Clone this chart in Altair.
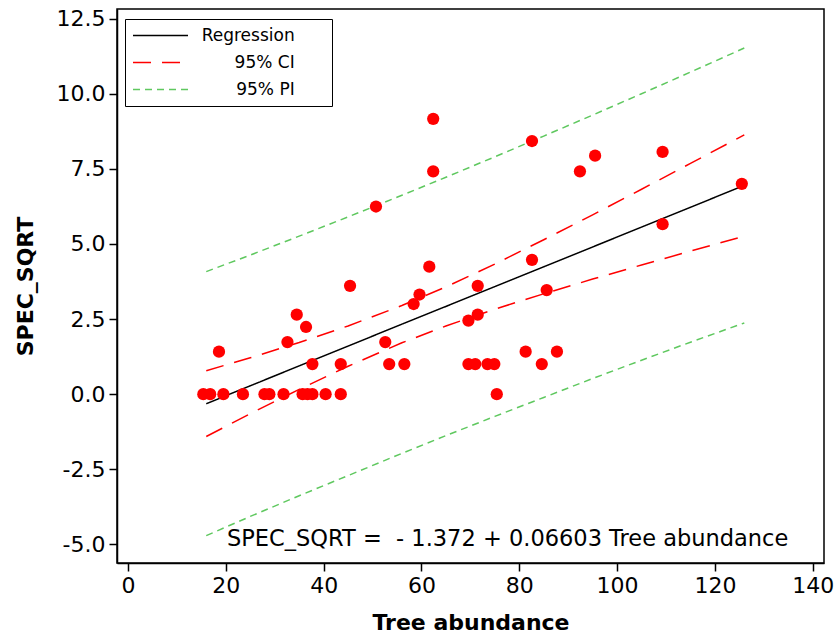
import altair as alt
import pandas as pd

# ---- data ----
tree_abundance = [15.4, 16.8, 19.5, 23.5, 27.9, 28.9, 31.8, 35.7, 36.7, 37.7, 40.4, 43.5,
                  18.6, 32.6, 34.5, 36.4, 37.7, 43.5, 45.4, 50.7, 52.6, 53.4, 56.5, 58.4,
                  59.6, 61.6, 62.4, 62.4, 69.6, 69.6, 71.0, 71.5, 71.5, 73.5, 74.9, 75.4,
                  81.3, 82.6, 82.6, 84.6, 85.6, 87.7, 92.4, 95.5, 109.3, 109.3, 125.5]
spec_sqrt = [0, 0, 0, 0, 0, 0, 0, 0, 0, 0, 0, 0,
             1.414, 1.732, 2.646, 2.236, 1.0, 1.0, 3.606, 6.245, 1.732, 1.0, 1.0, 3.0,
             3.317, 4.243, 9.165, 7.416, 2.449, 1.0, 1.0, 2.646, 3.606, 1.0, 1.0, 0,
             1.414, 8.426, 4.472, 1.0, 3.464, 1.414, 7.416, 7.937, 8.062, 5.657, 7.0]

fit_x = [16, 25, 35, 45, 56, 65, 75, 85, 95, 105, 115, 126]
regression = [-0.32, 0.28, 0.94, 1.60, 2.33, 2.92, 3.58, 4.24, 4.90, 5.56, 6.22, 6.95]
ci_upper = [0.78, 1.21, 1.72, 2.27, 2.95, 3.57, 4.33, 5.14, 5.97, 6.82, 7.68, 8.63]
ci_lower = [-1.41, -0.65, 0.16, 0.93, 1.71, 2.27, 2.83, 3.34, 3.83, 4.30, 4.76, 5.26]
pi_upper = [4.08, 4.63, 5.26, 5.90, 6.62, 7.22, 7.90, 8.59, 9.29, 10.00, 10.72, 11.52]
pi_lower = [-4.71, -4.07, -3.38, -2.71, -1.97, -1.38, -0.74, -0.11, 0.52, 1.13, 1.73, 2.37]

PAD = "\u00a0" + "\u2800" * 2  # blank trailing room inside the legend box
series_names = ["Regression" + PAD, "95% CI" + PAD, "95% PI" + PAD]
series_colors = ["#000000", "#ff0000", "#5fc85f"]
series_dashes = [[1, 0], [18, 11], [7, 5]]

x_ticks = [0, 20, 40, 60, 80, 100, 120, 140]
y_ticks = [-5.0, -2.5, 0.0, 2.5, 5.0, 7.5, 10.0, 12.5]
equation = "SPEC_SQRT =\u00a0\u00a0- 1.372 + 0.06603 Tree abundance"

# ---- tables ----
points_df = pd.DataFrame({"x": tree_abundance, "y": spec_sqrt})
rows = []
for name, part, ys in [(series_names[0], "fit", regression),
                       (series_names[1], "upper", ci_upper), (series_names[1], "lower", ci_lower),
                       (series_names[2], "upper", pi_upper), (series_names[2], "lower", pi_lower)]:
    for xv, yv in zip(fit_x, ys):
        rows.append({"series": name, "part": name + part, "x": xv, "y": yv})
lines_df = pd.DataFrame(rows)
text_df = pd.DataFrame({"label": [equation]})

FONT = "DejaVu Sans"

xscale = alt.Scale(domain=[-2.25, 142.3], nice=False, zero=False)
yscale = alt.Scale(domain=[-5.62, 12.82], nice=False, zero=False)
xaxis = alt.Axis(values=x_ticks, format="d", title="Tree abundance", titlePadding=16)
yaxis = alt.Axis(values=y_ticks, format=".1f", title="SPEC_SQRT", titlePadding=19,
                 labelExpr="replace(datum.label, '\u2212', '-')")

lines = alt.Chart(lines_df).mark_line(strokeWidth=1.5).encode(
    x=alt.X("x:Q", scale=xscale, axis=xaxis),
    y=alt.Y("y:Q", scale=yscale, axis=yaxis),
    color=alt.Color("series:N", title=None,
                    scale=alt.Scale(domain=series_names, range=series_colors)),
    strokeDash=alt.StrokeDash("series:N", title=None,
                              scale=alt.Scale(domain=series_names, range=series_dashes)),
    detail="part:N",
)

points = alt.Chart(points_df).mark_circle(size=150, color="#ff0000", opacity=1).encode(
    x=alt.X("x:Q", scale=xscale, axis=xaxis),
    y=alt.Y("y:Q", scale=yscale, axis=yaxis),
)

note = alt.Chart(text_df).mark_text(
    align="left", baseline="alphabetic", fontSize=22.5, font=FONT, color="black"
).encode(x=alt.value(110), y=alt.value(537), text="label:N")

chart = alt.layer(lines, points, note).properties(
    width=707, height=554,
    autosize=alt.AutoSizeParams(type="none"),
    padding={"left": 117, "top": 9, "right": 10, "bottom": 77},
    background="white",
).configure_view(
    stroke="black", strokeWidth=1.5
).configure_axis(
    grid=False, domainColor="black", domainWidth=1.5, tickColor="black", tickWidth=1.5,
    tickSize=8, labelFont=FONT, labelFontSize=22, labelColor="black", labelPadding=4,
    titleFont=FONT, titleFontSize=22, titleFontWeight="bold", titleColor="black",
).configure_legend(
    orient="none", legendX=8, legendY=10, padding=7, strokeColor="black", fillColor="white",
    symbolType="stroke", symbolSize=3025, symbolStrokeWidth=1.5, clipHeight=19,
    rowPadding=8, labelFont=FONT, labelFontSize=17, labelColor="black",
    labelAlign="right", labelOffset=136,
)

chart.save("out.html", embed_options={"renderer": "svg", "actions": False})
